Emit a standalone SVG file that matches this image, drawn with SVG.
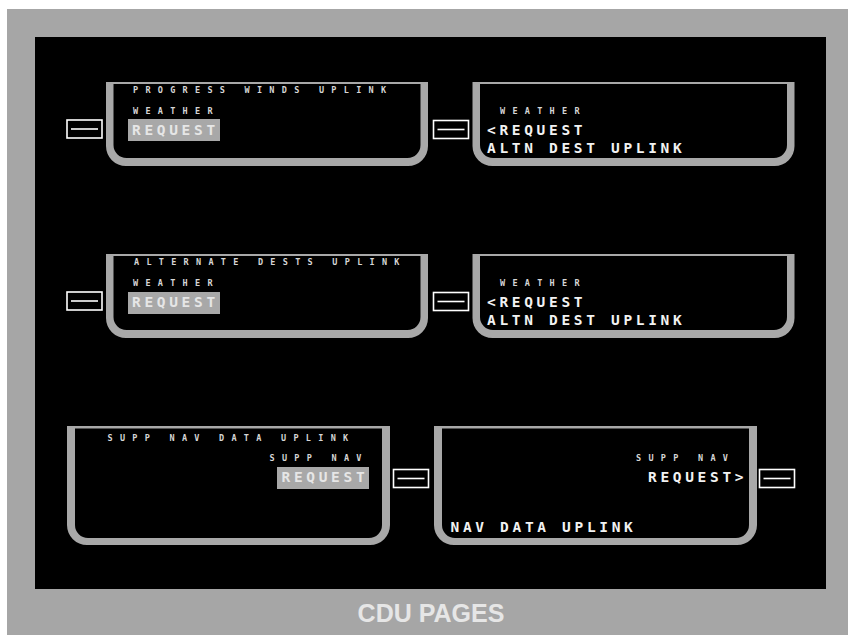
<svg xmlns="http://www.w3.org/2000/svg" width="848" height="635" viewBox="0 0 848 635">
<style>
.frame{fill:#a8a8a8;fill-rule:evenodd}
.sm{font-family:"DejaVu Sans Mono","Liberation Mono",monospace;font-weight:bold;font-size:8.5px;letter-spacing:7.28px;fill:#d6d6d6}
.lg{font-family:"DejaVu Sans Mono","Liberation Mono",monospace;font-weight:bold;font-size:14.5px;letter-spacing:3.67px;fill:#f2f2f2}
.hl{fill:#a8a8a8}
.hlt{fill:#e6e6e6}
.btn{fill:none;stroke:#ffffff;stroke-width:1.6}
.cap{font-family:"Liberation Sans",Arial,sans-serif;font-weight:bold;font-size:25px;fill:#e6e6e6}
</style>
<defs>
<path id="fTop" d="M0,0 H322 V64 A20,20 0 0 1 302,84 H20 A20,20 0 0 1 0,64 Z M7.5,2 H314.5 V63 A13,13 0 0 1 301.5,76 H20.5 A13,13 0 0 1 7.5,63 Z"/>
<path id="fBot" d="M0,0 H323 V99 A20,20 0 0 1 303,119 H20 A20,20 0 0 1 0,99 Z M8,2.5 H315 V99 A13,13 0 0 1 302,112 H21 A13,13 0 0 1 8,99 Z"/>
<g id="lsk"><rect class="btn" x="0" y="0" width="35" height="18"/><line class="btn" x1="4" y1="9" x2="31" y2="9"/></g>
</defs>
<rect x="7" y="9" width="841" height="626" fill="#a6a6a6"/>
<rect x="35" y="37" width="791" height="552" fill="#000000"/>

<g id="connectors"></g>

<g id="page-progress-winds">
<use href="#fTop" class="frame" x="106" y="82"/>
<use href="#lsk" x="67" y="120"/>
<text class="sm" x="133" y="93">PROGRESS WINDS UPLINK</text>
<text class="sm" x="133" y="114">WEATHER</text>
<rect class="hl" x="128" y="119" width="92" height="22"/>
<text class="lg hlt" x="132" y="135">REQUEST</text>
</g>

<g id="page-altn-dest-1">
<use href="#fTop" class="frame" x="472.5" y="82"/>
<use href="#lsk" x="433.5" y="120.5"/>
<text class="sm" x="500" y="114">WEATHER</text>
<text class="lg" x="487" y="134.5">&lt;REQUEST</text>
<text class="lg" x="487" y="152.5">ALTN DEST UPLINK</text>
</g>

<g id="page-alternate-dests">
<use href="#fTop" class="frame" x="106" y="254"/>
<use href="#lsk" x="67" y="292"/>
<text class="sm" x="134" y="265">ALTERNATE DESTS UPLINK</text>
<text class="sm" x="133" y="285.5">WEATHER</text>
<rect class="hl" x="128" y="292" width="92" height="22"/>
<text class="lg hlt" x="132" y="307">REQUEST</text>
</g>

<g id="page-altn-dest-2">
<use href="#fTop" class="frame" x="472.5" y="254"/>
<use href="#lsk" x="433.5" y="292.5"/>
<text class="sm" x="500" y="286">WEATHER</text>
<text class="lg" x="487" y="306.5">&lt;REQUEST</text>
<text class="lg" x="487" y="324.5">ALTN DEST UPLINK</text>
</g>

<g id="page-supp-nav-data">
<use href="#fBot" class="frame" x="67" y="426"/>
<use href="#lsk" x="393.5" y="469.5"/>
<text class="sm" x="107.5" y="441">SUPP NAV DATA UPLINK</text>
<text class="sm" x="269.5" y="461">SUPP NAV</text>
<rect class="hl" x="277" y="467" width="92" height="22"/>
<text class="lg hlt" x="281.5" y="482">REQUEST</text>
</g>

<g id="page-nav-data">
<use href="#fBot" class="frame" x="434" y="426"/>
<use href="#lsk" x="759.5" y="469.5"/>
<text class="sm" x="636" y="461">SUPP NAV</text>
<text class="lg" x="648" y="482">REQUEST&gt;</text>
<text class="lg" x="450.5" y="532">NAV DATA UPLINK</text>
</g>

<text class="cap" x="431" y="622" text-anchor="middle">CDU PAGES</text>
</svg>
